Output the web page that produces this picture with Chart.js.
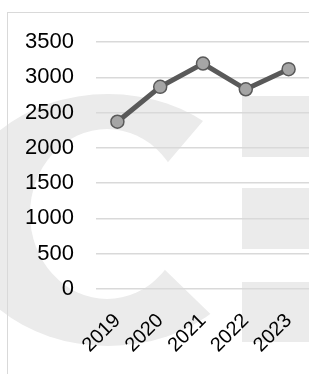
<!DOCTYPE html>
<html>
<head>
<meta charset="utf-8">
<script src="https://cdn.jsdelivr.net/npm/chart.js@4/dist/chart.umd.min.js"></script>
<style>
    html, body { margin: 0; padding: 0; background: #fff; overflow: hidden; width: 309px; height: 383px; }
    #chartBox { position: absolute; left: 0; top: 0; }
    #frame {
        position: absolute; left: 7px; top: 12px; width: 400px; height: 361px;
        border-left: 1px solid #d9d9d9; border-top: 1px solid #d9d9d9;
        pointer-events: none;
    }
</style>
</head>
<body>
<div id="chartBox"><canvas id="lineChart" width="330" height="383"></canvas></div>
<div id="frame"></div>
<script>
const years = ["2019", "2020", "2021", "2022", "2023"];
const values = [2370, 2865, 3195, 2830, 3115];
const yMin = 0;
const yMax = 3500;
const yStep = 500;

const chartCanvas = document.getElementById("lineChart");

// fondo gris claro (marca de agua)
const watermark = {
    id: "watermark",
    beforeDraw(chart) {
        const ctx = chart.ctx;
        ctx.save();
        ctx.fillStyle = "#ebebeb";
        ctx.beginPath();
        ctx.ellipse(108, 220, 154, 126, 0, 0, Math.PI * 2);
        ctx.fill();
        ctx.fillStyle = "#fff";
        ctx.beginPath();
        ctx.ellipse(107, 214, 77, 85, 0, 0, Math.PI * 2);
        ctx.fill();
        ctx.beginPath();
        ctx.moveTo(130, 218);
        ctx.lineTo(163, 168);
        ctx.lineTo(260, 54);
        ctx.lineTo(340, 54);
        ctx.lineTo(340, 362);
        ctx.lineTo(260, 362);
        ctx.lineTo(163, 268);
        ctx.closePath();
        ctx.fill();
        ctx.fillStyle = "#ebebeb";
        ctx.fillRect(242, 96, 100, 61);
        ctx.fillRect(242, 188, 100, 61);
        ctx.fillRect(242, 282, 100, 60);
        ctx.restore();
    }
};

const chart = new Chart(chartCanvas.getContext("2d"), {
    type: "line",
    data: {
        labels: years,
        datasets: [{
            data: values,
            borderColor: "#595959",
            borderWidth: 5,
            tension: 0,
            pointRadius: 6.5,
            pointHoverRadius: 6.5,
            pointBackgroundColor: "#a5a5a5",
            pointBorderColor: "#595959",
            pointBorderWidth: 1.5
        }]
    },
    options: {
        responsive: false,
        animation: false,
        layout: { padding: { left: 0, top: 42, right: 20, bottom: 0 } },
        plugins: { legend: { display: false }, tooltip: { enabled: false } },
        scales: {
            x: {
                offset: true,
                grid: { display: false, drawTicks: false },
                border: { display: false },
                ticks: {
                    maxRotation: 45, minRotation: 45, padding: 20,
                    color: "#000",
                    font: { family: "'Liberation Sans', Arial, sans-serif", size: 20 }
                },
                afterFit: scale => { scale.height = 94; }
            },
            y: {
                min: yMin,
                max: yMax,
                grid: { color: "#d9d9d9", lineWidth: 1.5, drawTicks: false },
                border: { display: false },
                ticks: {
                    stepSize: yStep, padding: 22,
                    color: "#000",
                    font: { family: "'Liberation Sans', Arial, sans-serif", size: 22 },
                    callback: value => String(value)
                },
                afterFit: scale => { scale.width = 96; }
            }
        }
    },
    plugins: [watermark]
});
</script>
</body>
</html>
